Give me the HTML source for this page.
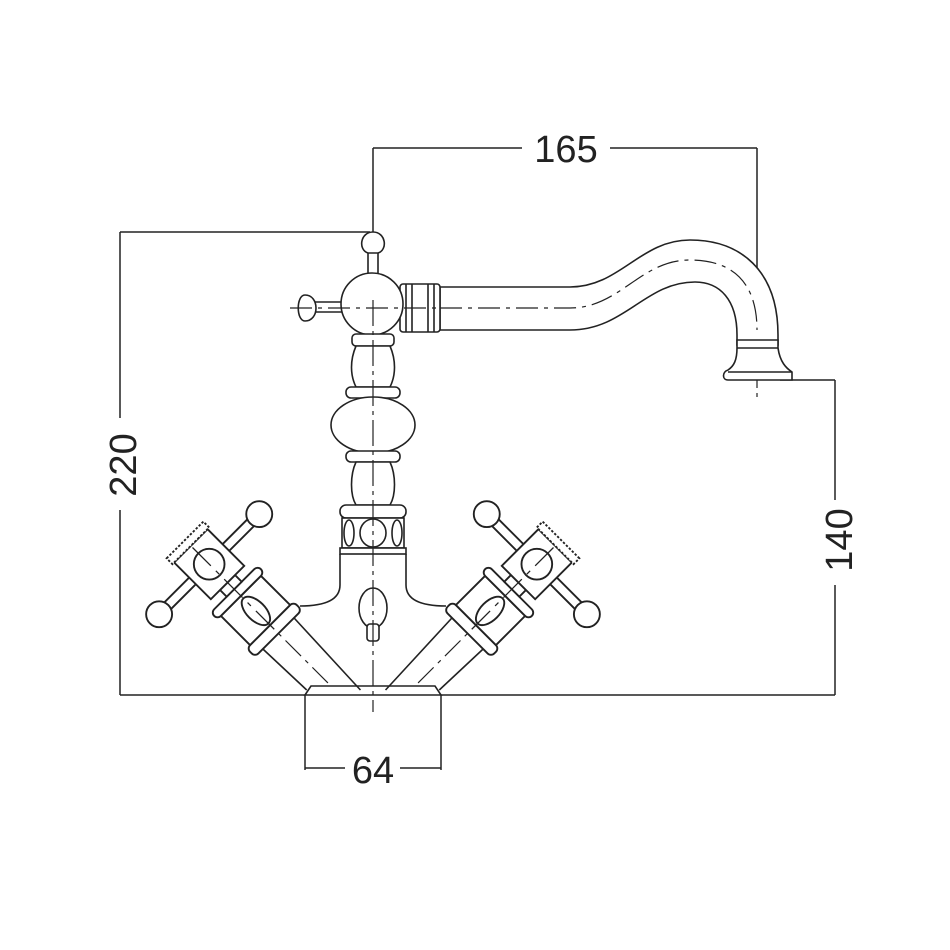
<!DOCTYPE html>
<html><head><style>html,body{margin:0;padding:0;background:#fff}svg{display:block}</style></head>
<body>
<svg width="950" height="950" viewBox="0 0 950 950" xmlns="http://www.w3.org/2000/svg">
<rect width="950" height="950" fill="#fff"/>
<defs>
<g id="hdl" fill="#fff" stroke="#222" stroke-width="1.6">
  <line x1="-20" y1="-20" x2="-22" y2="-80"/>
  <line x1="18" y1="18" x2="22" y2="-80"/>
  <line x1="0" y1="-10" x2="0" y2="-85" stroke-dasharray="22 6 4 6" stroke-width="1.2"/>
  <g transform="translate(0,-80) scale(1.18) translate(0,80)">
  <rect x="-28" y="-90" width="56" height="10" rx="4"/>
  <rect x="-24" y="-125" width="48" height="35"/>
  <ellipse cx="0" cy="-107" rx="8" ry="15"/>
  <rect x="-28" y="-133" width="56" height="8" rx="4"/>
  <rect x="-9" y="-141" width="18" height="8"/>
  <rect x="-56" y="-167" width="112" height="8"/>
  <circle cx="-60" cy="-163" r="11"/>
  <circle cx="60" cy="-163" r="11"/>
  <rect x="-20" y="-185" width="40" height="44"/>
  <circle cx="0" cy="-163" r="13"/>
  <rect x="-22" y="-192" width="44" height="7" stroke-dasharray="2 1.5"/>
  <line x1="0" y1="-85" x2="0" y2="-185" stroke-dasharray="22 6 4 6" stroke-width="1.1"/>
  </g>
</g>
</defs>

<g fill="none" stroke="#222" stroke-width="1.5">
  <line x1="373" y1="148" x2="522" y2="148"/>
  <line x1="610" y1="148" x2="757" y2="148"/>
  <line x1="757" y1="148" x2="757" y2="300"/>
  <line x1="120" y1="232" x2="370" y2="232"/>
  <line x1="120" y1="232" x2="120" y2="418"/>
  <line x1="120" y1="510" x2="120" y2="695"/>
  <line x1="120" y1="695" x2="305" y2="695"/>
  <line x1="441" y1="695" x2="835" y2="695"/>
  <line x1="780" y1="380" x2="835" y2="380"/>
  <line x1="835" y1="380" x2="835" y2="500"/>
  <line x1="835" y1="585" x2="835" y2="695"/>
  <line x1="305" y1="695" x2="305" y2="770"/>
  <line x1="441" y1="695" x2="441" y2="770"/>
  <line x1="305" y1="768" x2="345" y2="768"/>
  <line x1="400" y1="768" x2="441" y2="768"/>
  <line x1="373" y1="148" x2="373" y2="300"/>
  <line x1="757" y1="300" x2="757" y2="400" stroke-dasharray="20 5 4 5" stroke-width="1.2"/>
</g>

<g fill="#fff" stroke="#222" stroke-width="1.6">
  <path d="M440,287 L570,287 C620,287 640,240 690,240 C740,240 778,270 778,335 L778,345 L737,345 L737,335 C737,300 720,282 695,282 C645,282 625,330 570,330 L440,330 Z"/>
  <path d="M440,308 L570,308 C620,308 640,260 690,260 C735,260 757,285 757,330" fill="none" stroke-dasharray="22 6 4 6" stroke-width="1.2"/>
  <path d="M737,340 L778,340 L778,348 C780,362 786,368 792,372 L792,380 L728,380 C722,380 722,372 728,370 C734,366 737,360 737,348 Z"/>
  <line x1="737" y1="348" x2="778" y2="348"/>
  <line x1="728" y1="372" x2="792" y2="372"/>
  <rect x="400" y="284" width="40" height="48" rx="3"/>
  <line x1="406" y1="284" x2="406" y2="332"/>
  <line x1="412" y1="284" x2="412" y2="332"/>
  <line x1="428" y1="284" x2="428" y2="332"/>
  <line x1="434" y1="284" x2="434" y2="332"/>
  <rect x="305" y="302" width="40" height="10" rx="3"/>
  <path d="M305,295 C296,295 296,321 305,321 C312,321 316,315 316,308 C316,301 312,295 305,295 Z"/>
  <rect x="368" y="245" width="10" height="35"/>
  <path d="M373,232 C360,232 358,250 368,253 L378,253 C388,250 386,232 373,232 Z"/>
  <circle cx="372" cy="304" r="31"/>
  <rect x="352" y="334" width="42" height="12" rx="4"/>
  <path d="M356,346 C350,360 350,375 356,387 L390,387 C396,375 396,360 390,346 Z"/>
  <rect x="346" y="387" width="54" height="11" rx="5"/>
  <ellipse cx="373" cy="425" rx="42" ry="28"/>
  <rect x="346" y="451" width="54" height="11" rx="5"/>
  <path d="M356,462 C350,475 350,495 356,505 L390,505 C396,495 396,475 390,462 Z"/>
  <rect x="340" y="505" width="66" height="13" rx="6"/>
  <rect x="342" y="518" width="62" height="30"/>
  <ellipse cx="373" cy="533" rx="13" ry="14"/>
  <ellipse cx="349" cy="533" rx="5" ry="13"/>
  <ellipse cx="397" cy="533" rx="5" ry="13"/>
  <rect x="340" y="548" width="66" height="6"/>
  <path d="M340,585 C340,600 325,606 300,606" fill="none"/>
  <path d="M340,554 L340,585" fill="none"/>
  <path d="M406,554 L406,585" fill="none"/>
  <path d="M406,585 C406,600 421,606 446,606" fill="none"/>
  <ellipse cx="373" cy="608" rx="14" ry="20"/>
  <rect x="367" y="624" width="12" height="17" rx="3"/>
  <path d="M305,695 L311,686 L435,686 L441,695 Z"/>
  <line x1="373" y1="300" x2="373" y2="712" stroke-dasharray="26 5 4 5" stroke-width="1.2"/>
  <line x1="290" y1="308" x2="440" y2="308" stroke-dasharray="22 6 4 6" stroke-width="1.2"/>
</g>

<use href="#hdl" transform="translate(335,690) rotate(-45)"/>
<use href="#hdl" transform="translate(746,0) scale(-1,1) translate(335,690) rotate(-45)"/>

<g font-family="Liberation Sans, sans-serif" font-size="38" fill="#222" text-anchor="middle">
  <text x="566" y="162">165</text>
  <text x="373" y="783">64</text>
  <text transform="translate(136,465) rotate(-90)">220</text>
  <text transform="translate(852,540) rotate(-90)">140</text>
</g>
</svg>
</body></html>
